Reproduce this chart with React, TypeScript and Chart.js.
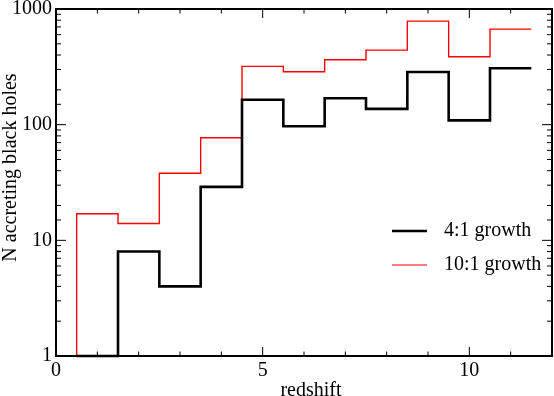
import React, { useEffect, useRef } from "react";
import { Chart, registerables } from "chart.js";

Chart.register(...registerables);

// Bin centres (redshift) and counts per bin
const redshiftBins = [1, 2, 3, 4, 5, 6, 7, 8, 9, 10, 11];
const growth4to1 = [1, 8, 4, 29, 164, 97, 169, 137, 285, 109, 307];
const growth10to1 = [17, 14, 38, 77, 319, 287, 364, 441, 786, 386, 670];
const seriesLabels = ["4:1 growth", "10:1 growth"];
const xTickLabels = [0, 5, 10];
const yTickLabels = [1, 10, 100, 1000];
const xTitle = "redshift";
const yTitle = "N accreting black holes";

const FONT = '"Liberation Serif", "DejaVu Serif", "Times New Roman", serif';

function histPoints(centres: number[], values: number[]) {
  const pts: { x: number; y: number }[] = [];
  pts.push({ x: centres[0] - 0.5, y: 1 });
  centres.forEach((c, i) => pts.push({ x: c - 0.5, y: values[i] }));
  pts.push({ x: centres[centres.length - 1] + 0.5, y: values[values.length - 1] });
  return pts;
}

const framePlugin = {
  id: "frameTicks",
  afterDatasetsDraw(chart: any) {
    const { ctx, chartArea, scales } = chart;
    const { left, right, top, bottom } = chartArea;
    ctx.save();
    ctx.strokeStyle = "#000";
    ctx.lineWidth = 1;
    const xs = scales.x;
    xs.ticks.forEach((t: any) => {
      const p = xs.getPixelForValue(t.value);
      if (p < left - 0.5 || p > right + 0.5) return;
      const len = xTickLabels.includes(t.value) ? 9 : 4.5;
      ctx.beginPath();
      ctx.moveTo(p, bottom);
      ctx.lineTo(p, bottom - len);
      ctx.moveTo(p, top);
      ctx.lineTo(p, top + len);
      ctx.stroke();
    });
    const ys = scales.y;
    ys.ticks.forEach((t: any) => {
      const p = ys.getPixelForValue(t.value);
      if (p < top - 0.5 || p > bottom + 0.5) return;
      const len = yTickLabels.includes(t.value) ? 10 : 5;
      ctx.beginPath();
      ctx.moveTo(left, p);
      ctx.lineTo(left + len, p);
      ctx.moveTo(right, p);
      ctx.lineTo(right - len, p);
      ctx.stroke();
    });
    ctx.lineWidth = 2;
    ctx.strokeRect(left, top, right - left, bottom - top);

    ctx.fillStyle = "#000";
    ctx.font = `20px ${FONT}`;

    // axis titles
    ctx.textAlign = "center";
    ctx.textBaseline = "alphabetic";
    ctx.fillText(xTitle, (left + right) / 2 + 7, chart.height - 0.5);
    ctx.save();
    ctx.translate(16, (top + bottom) / 2 - 15);
    ctx.rotate(-Math.PI / 2);
    ctx.fillText(yTitle, 0, 0);
    ctx.restore();

    // legend
    const lx0 = left + 336;
    const lx1 = left + 371;
    const tx = left + 388;
    const rows = [top + 222, top + 256];
    chart.data.datasets.forEach((ds: any, i: number) => {
      const y = rows[i];
      ctx.beginPath();
      ctx.strokeStyle = ds.borderColor;
      ctx.lineWidth = i === 0 ? 2.6 : 1.2;
      ctx.moveTo(lx0, y);
      ctx.lineTo(lx1, y);
      ctx.stroke();
      ctx.textBaseline = "middle";
      ctx.textAlign = "left";
      ctx.fillText(ds.label, tx, y);
    });
    ctx.restore();
  },
};

export default function App() {
  const ref = useRef<HTMLCanvasElement>(null);
  useEffect(() => {
    if (!ref.current) return;
    const chart = new Chart(ref.current, {
      type: "line",
      data: {
        datasets: [
          {
            label: seriesLabels[0],
            data: histPoints(redshiftBins, growth4to1),
            borderColor: "#000000",
            borderWidth: 2.6,
            stepped: "before",
            pointRadius: 0,
            fill: false,
            clip: false as any,
          },
          {
            label: seriesLabels[1],
            data: histPoints(redshiftBins, growth10to1),
            borderColor: "#ff0000",
            borderWidth: 1.4,
            stepped: "before",
            pointRadius: 0,
            fill: false,
            clip: false as any,
          },
        ],
      },
      plugins: [framePlugin],
      options: {
        animation: false,
        responsive: false,
        maintainAspectRatio: false,
        layout: { padding: { top: 9, right: 2, left: 0, bottom: 0 } },
        plugins: { legend: { display: false }, tooltip: { enabled: false } },
        scales: {
          x: {
            type: "linear",
            min: 0,
            max: 12,
            grid: { display: false, drawTicks: false },
            border: { display: false },
            ticks: {
              stepSize: 1,
              autoSkip: false,
              maxRotation: 0,
              padding: 3,
              color: "#000",
              font: { family: FONT, size: 20 },
              callback: (v: any) => (xTickLabels.includes(Number(v)) ? String(v) : ""),
            },
            title: { display: false },
            afterFit: (s: any) => {
              s.height = 40;
              s.paddingLeft = 0;
              s.paddingRight = 0;
            },
          },
          y: {
            type: "logarithmic",
            min: 1,
            max: 1000,
            grid: { display: false, drawTicks: false },
            border: { display: false },
            ticks: {
              autoSkip: false,
              padding: 4,
              color: "#000",
              font: { family: FONT, size: 20 },
              callback: (v: any) => (yTickLabels.includes(Number(v)) ? String(v) : ""),
            },
            title: { display: false },
            afterFit: (s: any) => {
              s.width = 56;
              s.paddingTop = 0;
              s.paddingBottom = 0;
            },
          },
        },
      },
    });
    return () => chart.destroy();
  }, []);
  return (
    <div style={{ position: "fixed", left: 0, top: 0, width: 554, height: 396, background: "#fff" }}>
      <canvas ref={ref} width={554} height={396} style={{ width: 554, height: 396 }} />
    </div>
  );
}
